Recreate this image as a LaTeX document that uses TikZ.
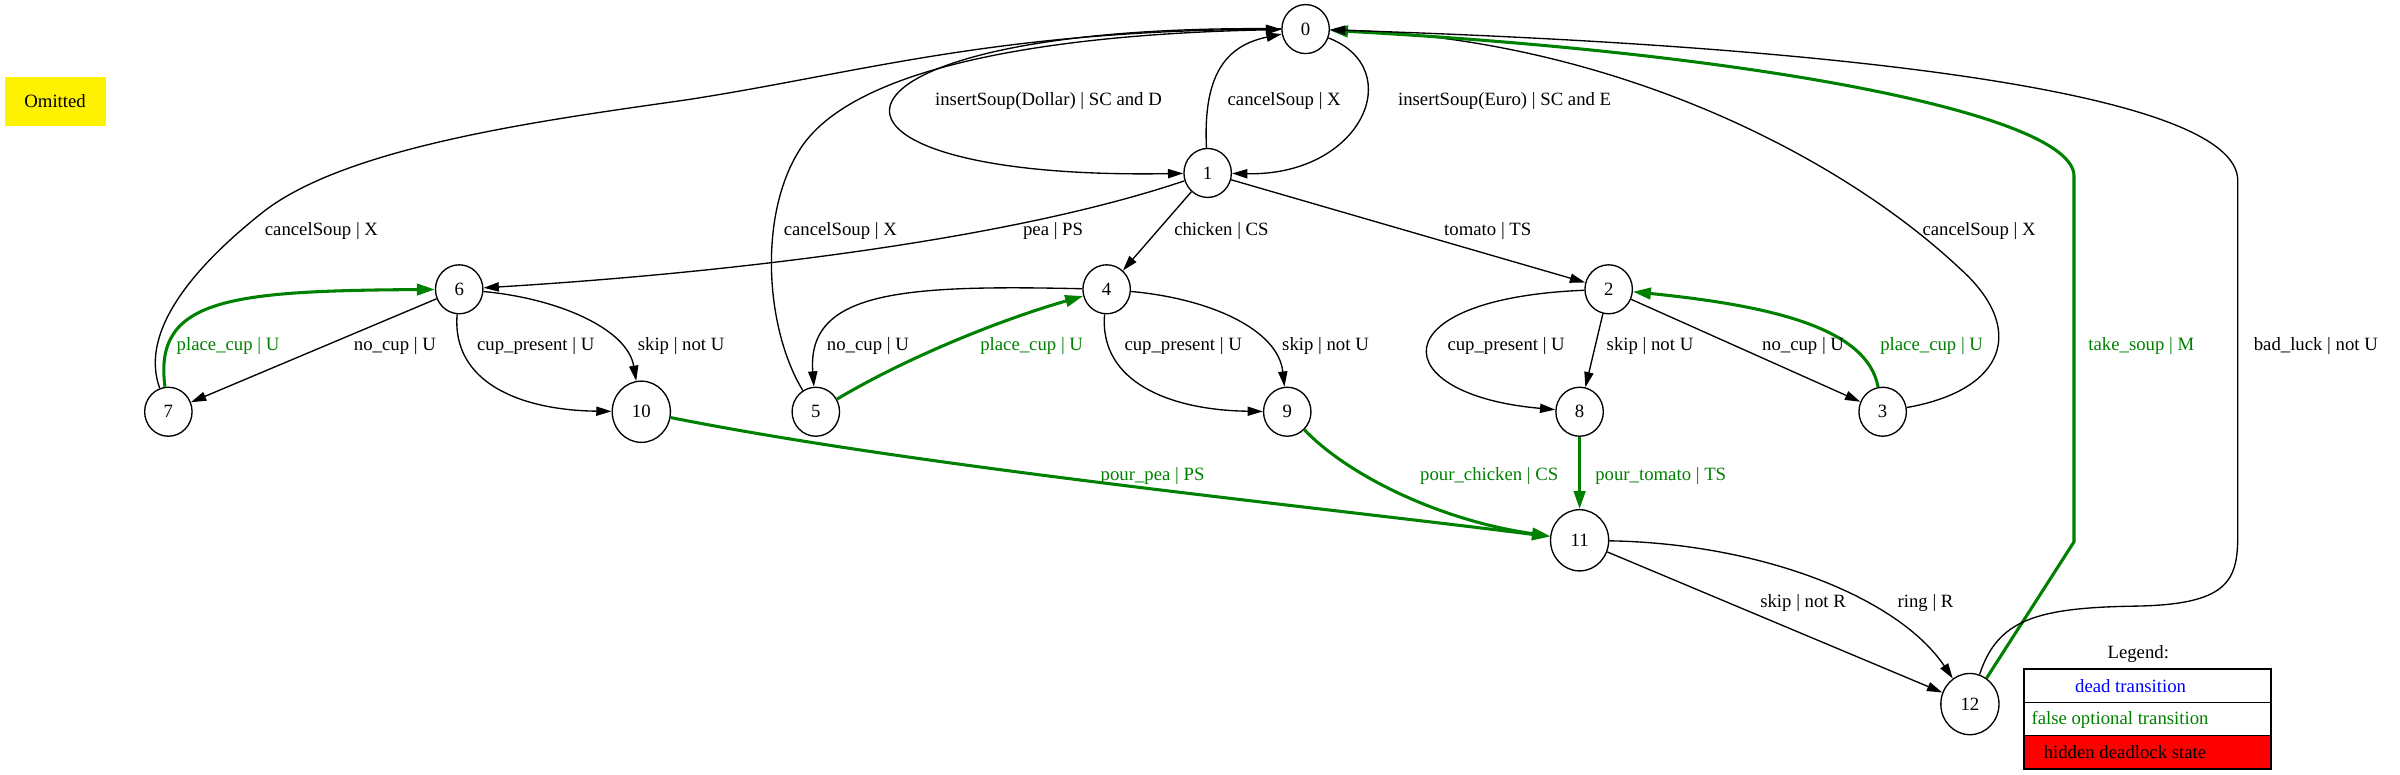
\documentclass[tikz,border=0pt]{standalone}
\usepackage{fontspec}
\setmainfont{Liberation Serif}
\usetikzlibrary{arrows.meta,shapes.geometric}
\definecolor{fauxvert}{RGB}{0,128,0}

\begin{document}
\begin{tikzpicture}[x=0.8pt,y=-0.8pt,>={Triangle[length=8pt,width=4.8pt]},
	font=\fontsize{9.8}{11.8}\selectfont,
	etat/.style={ellipse,draw,line width=0.7pt,inner sep=0pt,minimum width=24.8pt,minimum height=25.6pt},
	etatdeux/.style={etat,minimum width=30.4pt,minimum height=32pt},
	trans/.style={->,line width=0.7pt},
	transfaux/.style={-{Triangle[length=9.4pt,width=6pt]},line width=1.6pt,fauxvert},
	lbl/.style={inner sep=0pt},
	lblfaux/.style={lbl,text=fauxvert},
	cellule/.style={draw,line width=0.9pt,minimum width=128.8pt,minimum height=17.6pt,inner sep=0pt}]
	\useasboundingbox (0,0) rectangle (1568,506);

	% la case omise
	\node[fill=yellow,minimum width=52.8pt,minimum height=25.6pt,inner sep=0pt] (omis) at (36,66) {Omitted};

	% les etats
	\node[etat] (e0) at (853,19) {0};
	\node[etat] (e1) at (789,113) {1};
	\node[etat] (e2) at (1051,189) {2};
	\node[etat] (e3) at (1230,269) {3};
	\node[etat] (e4) at (723,189) {4};
	\node[etat] (e5) at (533,269) {5};
	\node[etat] (e6) at (300,189) {6};
	\node[etat] (e7) at (110,269) {7};
	\node[etat] (e8) at (1032,269) {8};
	\node[etat] (e9) at (841,269) {9};
	\node[etatdeux] (e10) at (419,269) {10};
	\node[etatdeux] (e11) at (1032,353) {11};
	\node[etatdeux] (e12) at (1287,460) {12};

	% depuis 0 et 1
	\draw[trans] (e0) .. controls (520,15) and (500,118) .. (e1);
	\draw[trans] (e1) .. controls (786,50) and (800,30) .. (e0);
	\draw[trans] (e0) .. controls (920,45) and (890,115) .. (e1);
	\draw[trans] (e1) .. controls (650,160) and (450,180) .. (e6);
	\draw[trans] (e1) -- (e4);
	\draw[trans] (e1) -- (e2);
	\node[lbl] (l01d) at (685,66) {insertSoup(Dollar) | SC and D};
	\node[lbl] (l10) at (839,66) {cancelSoup | X};
	\node[lbl] (l01e) at (983,66) {insertSoup(Euro) | SC and E};
	\node[lbl] (l16) at (688,151) {pea | PS};
	\node[lbl] (l14) at (798,151) {chicken | CS};
	\node[lbl] (l12) at (972,151) {tomato | TS};

	% les retours vers 0
	\draw[trans] (e5) .. controls (500,215) and (495,140) .. (523,97) .. controls (560,40) and (700,22) .. (e0);
	\draw[trans] (e7) .. controls (92,220) and (120,180) .. (170,140) .. controls (225,95) and (360,78) .. (450,65) .. controls (560,48) and (650,20) .. (e0);
	\draw[trans] (e3) .. controls (1310,255) and (1325,215) .. (1280,175) .. controls (1200,100) and (1050,25) .. (e0);
	\node[lbl] (l70) at (210,151) {cancelSoup | X};
	\node[lbl] (l50) at (549,151) {cancelSoup | X};
	\node[lbl] (l30) at (1293,151) {cancelSoup | X};

	% etats 6, 7 et 10
	\draw[transfaux] (e7) .. controls (100,195) and (150,190) .. (e6);
	\draw[trans] (e6) -- (e7);
	\draw[trans] (e6) .. controls (295,250) and (340,268) .. (e10);
	\draw[trans] (e6) .. controls (365,195) and (410,215) .. (e10);
	\node[lblfaux] (l76) at (149,226) {place\_cup | U};
	\node[lbl] (l67) at (258,226) {no\_cup | U};
	\node[lbl] (l610a) at (350,226) {cup\_present | U};
	\node[lbl] (l610b) at (445,226) {skip | not U};

	% etats 4, 5 et 9
	\draw[transfaux] (e5) .. controls (590,235) and (650,210) .. (e4);
	\draw[trans] (e4) .. controls (590,186) and (527,190) .. (e5);
	\draw[trans] (e4) .. controls (718,250) and (765,268) .. (e9);
	\draw[trans] (e4) .. controls (790,195) and (835,215) .. (e9);
	\node[lbl] (l45) at (567,226) {no\_cup | U};
	\node[lblfaux] (l54) at (674,226) {place\_cup | U};
	\node[lbl] (l49a) at (773,226) {cup\_present | U};
	\node[lbl] (l49b) at (866,226) {skip | not U};

	% etats 2, 3 et 8
	\draw[trans] (e2) .. controls (900,195) and (905,258) .. (e8);
	\draw[trans] (e2) -- (e8);
	\draw[trans] (e2) -- (e3);
	\draw[transfaux] (e3) .. controls (1220,215) and (1160,200) .. (e2);
	\node[lbl] (l28a) at (984,226) {cup\_present | U};
	\node[lbl] (l28b) at (1078,226) {skip | not U};
	\node[lbl] (l23) at (1178,226) {no\_cup | U};
	\node[lblfaux] (l32) at (1262,226) {place\_cup | U};

	% vers 11 et 12
	\draw[transfaux] (e10) .. controls (600,305) and (850,330) .. (e11);
	\draw[transfaux] (e9) .. controls (880,310) and (940,340) .. (e11);
	\draw[transfaux] (e8) -- (e11);
	\draw[trans] (e11) .. controls (1150,355) and (1240,390) .. (e12);
	\draw[trans] (e11) -- (e12);
	\draw[transfaux] (e12) -- (1355,354) -- (1355,115) .. controls (1355,75) and (1150,35) .. (e0);
	\draw[trans] (e12) .. controls (1305,405) and (1330,397) .. (1395,396) .. controls (1455,395) and (1462,380) .. (1462,350) -- (1462,118) .. controls (1462,60) and (1200,30) .. (e0);
	\node[lblfaux] (l1011) at (753,311) {pour\_pea | PS};
	\node[lblfaux] (l911) at (973,311) {pour\_chicken | CS};
	\node[lblfaux] (l811) at (1085,311) {pour\_tomato | TS};
	\node[lbl] (l1112b) at (1178,394) {skip | not R};
	\node[lbl] (l1112a) at (1258,394) {ring | R};
	\node[lblfaux] (l120a) at (1399,226) {take\_soup | M};
	\node[lbl] (l120b) at (1513,226) {bad\_luck | not U};

	% la legende
	\node[lbl] (legende) at (1397,427) {Legend:};
	\node[cellule] (cmort) at (1403,448) {};
	\node[cellule] (cfaux) at (1403,470) {};
	\node[cellule,fill=red] (cbloc) at (1403,491.5) {};
	\node[lbl,anchor=west,text=blue] (tmort) at (1355.5,448) {dead transition};
	\node[lbl,anchor=west,text=fauxvert] (tfaux) at (1327,470) {false optional transition};
	\node[lbl,anchor=west] (tbloc) at (1335,491.5) {hidden deadlock state};

\end{tikzpicture}
\end{document}
